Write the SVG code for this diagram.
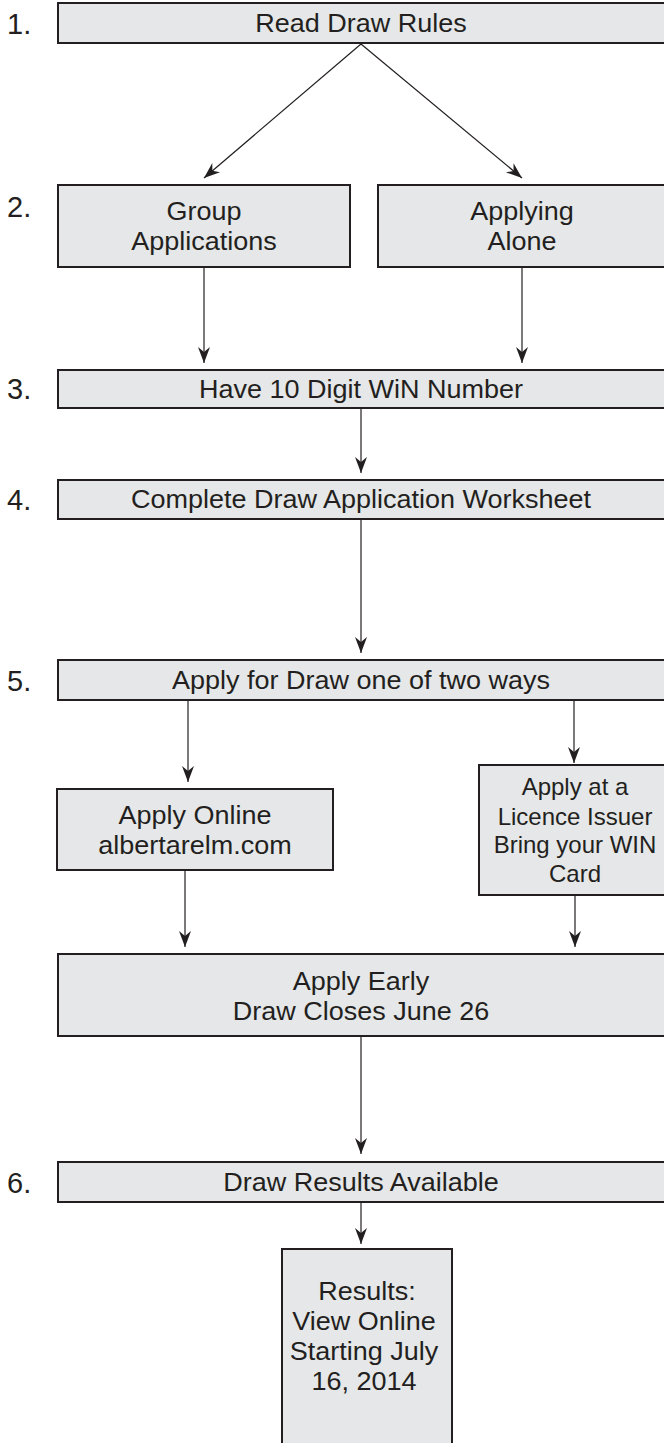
<svg xmlns="http://www.w3.org/2000/svg" width="664" height="1443" viewBox="0 0 664 1443">
<style>
.box{fill:#e6e7e8;stroke:#231f20;stroke-width:2}
.t{font-family:"Liberation Sans",Arial,Helvetica,sans-serif;font-size:25px;fill:#231f20;text-anchor:middle;transform-box:fill-box;transform-origin:center;transform:scaleX(1.08)}
.s{font-family:"Liberation Sans",Arial,Helvetica,sans-serif;font-size:24px;fill:#231f20;text-anchor:middle}
.n{font-family:"Liberation Sans",Arial,Helvetica,sans-serif;font-size:29px;fill:#231f20}
.c{fill:none;stroke:#231f20;stroke-width:1.2;marker-end:url(#ah)}
</style>
<defs>
<marker id="ah" markerUnits="userSpaceOnUse" markerWidth="18" markerHeight="14" viewBox="-17 -7 18 14" refX="0" refY="0" orient="auto">
<path d="M0,0 L-16,-6 L-11,0 L-16,6 Z" fill="#231f20"/>
</marker>
</defs>
<rect width="664" height="1443" fill="#ffffff"/>
<g id="step-labels">
<text class="n" x="7" y="34">1.</text>
<text class="n" x="7" y="217">2.</text>
<text class="n" x="7" y="399">3.</text>
<text class="n" x="7" y="510">4.</text>
<text class="n" x="7" y="691">5.</text>
<text class="n" x="7" y="1193">6.</text>
</g>
<g id="connectors">
<path class="c" d="M361,44 L204,178"/>
<path class="c" d="M361,44 L522,178"/>
<path class="c" d="M204,267 L204,363"/>
<path class="c" d="M522,267 L522,363"/>
<path class="c" d="M361,408 L361,473"/>
<path class="c" d="M361,519 L361,653"/>
<path class="c" d="M188,700 L188,782"/>
<path class="c" d="M574,700 L574,763"/>
<path class="c" d="M185,870 L185,947"/>
<path class="c" d="M575,895 L575,947"/>
<path class="c" d="M361,1036 L361,1154"/>
<path class="c" d="M361,1202 L361,1244"/>
</g>
<g id="read-rules">
<rect class="box" x="58" y="3" width="608" height="40"/>
<text class="t" x="361" y="32">Read Draw Rules</text>
</g>
<g id="group-applications">
<rect class="box" x="58" y="185" width="292" height="82"/>
<text class="t" x="204" y="220">Group</text>
<text class="t" x="204" y="250">Applications</text>
</g>
<g id="applying-alone">
<rect class="box" x="378" y="185" width="288" height="82"/>
<text class="t" x="522" y="220">Applying</text>
<text class="t" x="522" y="250">Alone</text>
</g>
<g id="win-number">
<rect class="box" x="58" y="370" width="608" height="38"/>
<text class="t" x="361" y="398">Have 10 Digit WiN Number</text>
</g>
<g id="worksheet">
<rect class="box" x="58" y="480" width="608" height="39"/>
<text class="t" x="361" y="508">Complete Draw Application Worksheet</text>
</g>
<g id="apply-for-draw">
<rect class="box" x="58" y="660" width="608" height="40"/>
<text class="t" x="361" y="689">Apply for Draw one of two ways</text>
</g>
<g id="apply-online">
<rect class="box" x="57" y="789" width="276" height="81"/>
<text class="t" x="195" y="824">Apply Online</text>
<text class="t" x="195" y="854">albertarelm.com</text>
</g>
<g id="licence-issuer">
<rect class="box" x="479" y="765" width="192" height="130"/>
<text class="s" x="575" y="795">Apply at a</text>
<text class="s" x="575" y="825">Licence Issuer</text>
<text class="s" x="575" y="853">Bring your WIN</text>
<text class="s" x="575" y="882">Card</text>
</g>
<g id="apply-early">
<rect class="box" x="58" y="954" width="608" height="82"/>
<text class="t" x="361" y="990">Apply Early</text>
<text class="t" x="361" y="1020">Draw Closes June 26</text>
</g>
<g id="draw-results">
<rect class="box" x="58" y="1162" width="608" height="40"/>
<text class="t" x="361" y="1191">Draw Results Available</text>
</g>
<g id="results-online">
<rect class="box" x="282" y="1249" width="170" height="200"/>
<text class="t" x="367" y="1300">Results:</text>
<text class="t" x="364" y="1330">View Online</text>
<text class="t" x="364" y="1360">Starting July</text>
<text class="t" x="364" y="1390">16, 2014</text>
</g>
</svg>
